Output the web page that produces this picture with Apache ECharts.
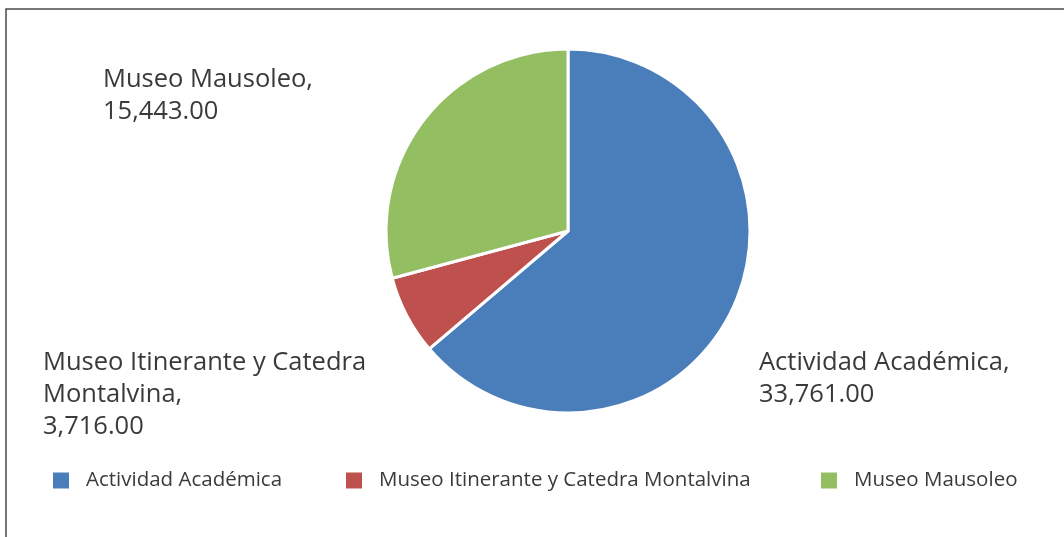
<!DOCTYPE html>
<html><head><meta charset="utf-8">
<script src="https://cdn.jsdelivr.net/npm/echarts@6/dist/echarts.min.js"></script>
<style>html,body{margin:0;padding:0;background:#fff}#c{width:1064px;height:537px}</style>
</head><body><div id="c"></div>
<script>
const categories = ['Actividad Académica', 'Museo Itinerante y Catedra Montalvina', 'Museo Mausoleo'];
const values = [33761, 3716, 15443];
const labelTexts = ['Actividad Académica,\n33,761.00', 'Museo Itinerante y Catedra\nMontalvina,\n3,716.00', 'Museo Mausoleo,\n15,443.00'];
const colors = ['#4A7EBB', '#BE504D', '#93BE62'];

const FONT = '"Open Sans", sans-serif';
const labelPos = [[759, 347], [43, 347], [103, 64]];
const legendLeft = [46, 339, 814];

const chart = echarts.init(document.getElementById('c'));
chart.setOption({
  animation: false,
  color: colors,
  graphic: [{
    type: 'rect', shape: {x: 6, y: 9, width: 1100, height: 600},
    style: {fill: 'none', stroke: '#4a4a4a', lineWidth: 1.5}, silent: true, z: -1
  }],
  legend: categories.map((c, i) => ({
    data: [c], left: legendLeft[i], top: 465, itemWidth: 18, itemHeight: 18, itemGap: 0,
    icon: 'rect', textStyle: {fontFamily: FONT, fontSize: 20.5, color: '#3a3a3a', padding: [0, 0, 0, 11]}
  })),
  series: [{
    type: 'pie', center: [568, 231], radius: 182, startAngle: 90, clockwise: true,
    itemStyle: {borderColor: '#fff', borderWidth: 3},
    label: {
      show: true, position: 'outside',
      formatter: p => labelTexts[p.dataIndex],
      fontFamily: FONT, fontSize: 25.5, lineHeight: 32, color: '#3a3a3a', align: 'left'
    },
    labelLine: {show: false},
    labelLayout: p => ({x: labelPos[p.dataIndex][0], y: labelPos[p.dataIndex][1], align: 'left', verticalAlign: 'top'}),
    data: categories.map((c, i) => ({name: c, value: values[i]}))
  }]
});
</script></body></html>
